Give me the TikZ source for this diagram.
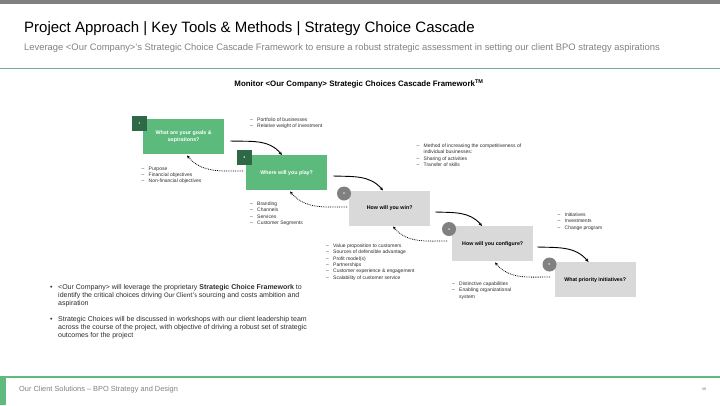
\documentclass[tikz,border=0pt]{standalone}
\usepackage{fontspec}
\setmainfont{Liberation Sans}
\newfontfamily\calib{Carlito}
\usetikzlibrary{arrows.meta,calc}
\definecolor{boxgreen}{RGB}{93,186,125}
\definecolor{sqgreen}{RGB}{46,104,70}
\definecolor{boxgray}{RGB}{217,217,217}
\definecolor{cigray}{RGB}{128,128,128}
\definecolor{topgray}{RGB}{128,128,128}
\definecolor{rulegreen}{RGB}{122,168,146}
\definecolor{footgreen}{RGB}{95,186,125}
\definecolor{subgray}{RGB}{130,130,130}
\definecolor{txtdark}{RGB}{45,45,45}
\begin{document}
\begin{tikzpicture}[x=1pt,y=-1pt,
  gbox/.style={fill=boxgreen, minimum width=81pt, minimum height=35pt, inner sep=0pt, text=white,
    font=\fontsize{5.3}{6.4}\selectfont\bfseries, align=center, anchor=north west},
  ybox/.style={gbox, fill=boxgray, text=black},
  numsq/.style={fill=sqgreen, minimum size=15pt, inner sep=0pt, text=white, font=\fontsize{3}{3}\selectfont\bfseries},
  numci/.style={circle, fill=cigray, minimum size=14pt, inner sep=0pt, text=white, font=\fontsize{3}{3}\selectfont\bfseries},
  fwd/.style={-{Stealth[length=3.5pt,width=3pt]}, line width=0.9pt, black},
  back/.style={-{Stealth[length=3.5pt,width=3pt]}, line width=0.8pt, densely dotted, black},
  lst/.style={anchor=north west, align=left, font=\fontsize{5}{6.4}\selectfont, inner sep=0pt, text=txtdark},
]
\useasboundingbox (0,0) rectangle (720,405);
\fill[white] (0,0) rectangle (720,405);
% header
\fill[topgray] (0,0) rectangle (720,3.5);
\node[anchor=base west, inner sep=0pt, font=\fontsize{15}{18}\selectfont, text=black] (title) at (24,32.3)
  {Project Approach | Key Tools \& Methods | Strategy Choice Cascade};
\node[anchor=base west, inner sep=0pt, font=\fontsize{9.4}{11}\selectfont, text=subgray] (subtitle) at (24,50.2)
  {Leverage <Our Company>'s Strategic Choice Cascade Framework to ensure a robust strategic assessment in setting our client BPO strategy aspirations};
\draw[rulegreen, line width=1pt] (0,68) -- (720,68);
\node[anchor=base, inner sep=0pt, font=\fontsize{7.9}{9}\selectfont\bfseries] (fwtitle) at (359,86.8)
  {Monitor <Our Company> Strategic Choices Cascade Framework\textsuperscript{TM}};
% boxes
\node[gbox] (b1) at (143,119) {What are your goals \&\\aspirations?};
\node[gbox] (b2) at (246,155) {Where will you play?};
\node[ybox] (b3) at (349,190.5) {How will you win?};
\node[ybox] (b4) at (452,226) {How will you configure?};
\node[ybox] (b5) at (554.5,262) {What priority initiatives?};
\node[numsq] (n1) at (139.5,123.5) {1};
\node[numsq] (n2) at (244.5,157.5) {2};
\node[numci] (n3) at (344,193.5) {3};
\node[numci] (n4) at (449,229) {4};
\node[numci] (n5) at (549.5,264.5) {5};
% forward arrows
\coordinate (s1) at ($(b1.north east)+(6,22)$);
\coordinate (s2) at ($(b2.north east)+(6,21)$);
\coordinate (s3) at ($(b3.north east)+(5,21.5)$);
\coordinate (s4) at ($(b4.north east)+(4,21)$);
\coordinate (e2) at ($(b2.north west)+(36,0)$);
\coordinate (e3) at ($(b3.north west)+(34,0)$);
\coordinate (e4) at ($(b4.north west)+(30,0)$);
\coordinate (e5) at ($(b5.north west)+(34,0)$);
\draw[fwd] (s1) to[out=-2,in=130] (e2);
\draw[fwd] (s2) to[out=-2,in=130] (e3);
\draw[fwd] (s3) to[out=-2,in=130] (e4);
\draw[fwd] (s4) to[out=-2,in=130] (e5);
% backward dotted arrows
\coordinate (r2) at ($(b2.north west)+(-3,16)$);
\coordinate (r3) at ($(b3.north west)+(-2,16.5)$);
\coordinate (r4) at ($(b4.north west)+(-5,15)$);
\coordinate (r5) at ($(b5.north west)+(-4.5,15)$);
\coordinate (t1) at ($(b1.south west)+(44,1)$);
\coordinate (t2) at ($(b2.south west)+(44,1)$);
\coordinate (t3) at ($(b3.south west)+(44,0.5)$);
\coordinate (t4) at ($(b4.south west)+(43,1)$);
\draw[back] (r2) to[out=180,in=-50] (t1);
\draw[back] (r3) to[out=180,in=-50] (t2);
\draw[back] (r4) to[out=180,in=-50] (t3);
\draw[back] (r5) to[out=180,in=-50] (t4);
% lists
\newcommand{\dsh}{\makebox[7pt][l]{--}}
\newcommand{\ind}{\hspace*{7pt}}
\node[lst] (l1) at (250,117.5) {\dsh Portfolio of businesses\\\dsh Relative weight of investment};
\node[lst] (l2) at (141.5,166.5) {\dsh Purpose\\\dsh Financial objectives\\\dsh Non-financial objectives};
\node[lst] (l3) at (416.5,143.5) {\dsh Method of increasing the competitiveness of\\\ind individual businesses:\\\dsh Sharing of activities\\\dsh Transfer of skills};
\node[lst] (l4) at (250,201.5) {\dsh Branding\\\dsh Channels\\\dsh Services\\\dsh Customer Segments};
\node[lst] (l5) at (557.5,212.5) {\dsh Initiatives\\\dsh Investments\\\dsh Change program};
\node[lst] (l6) at (326,243.5) {\dsh Value proposition to customers\\\dsh Sources of defensible advantage\\\dsh Profit model(s)\\\dsh Partnerships\\\dsh Customer experience \& engagement\\\dsh Scalability of customer service};
\node[lst] (l7) at (452,281.5) {\dsh Distinctive capabilities\\\dsh Enabling organizational\\\ind system};
% bullets
\node[anchor=north west, inner sep=0pt, font=\fontsize{7}{7.8}\selectfont, text=txtdark] (p1) at (50,284)
 {\begin{tabular}{@{}p{8pt}@{}l@{}}
 \textbullet & <Our Company> will leverage the proprietary \textbf{Strategic Choice Framework} to\\
  & identify the critical choices driving {\calib Our Client’s} sourcing and costs ambition and\\
  & aspiration
 \end{tabular}};
\node[anchor=north west, inner sep=0pt, font=\fontsize{7}{7.8}\selectfont, text=txtdark] (p2) at (50,316)
 {\begin{tabular}{@{}p{8pt}@{}l@{}}
 \textbullet & Strategic Choices will be discussed in workshops with our client leadership team\\
  & across the course of the project, with objective of driving a robust set of strategic\\
  & outcomes for the project
 \end{tabular}};
% footer
\draw[footgreen, line width=1.3pt] (0,377) -- (720,377);
\fill[footgreen] (0,377) rectangle (6,405);
\node[anchor=base west, inner sep=0pt, font=\fontsize{7.4}{8}\selectfont, text=subgray] (foot) at (19,391.7)
  {Our Client Solutions -- BPO Strategy and Design};
\node[anchor=base, inner sep=0pt, font=\fontsize{4}{5}\selectfont, text=subgray] (pg) at (704,390.5) {46};
\end{tikzpicture}
\end{document}
